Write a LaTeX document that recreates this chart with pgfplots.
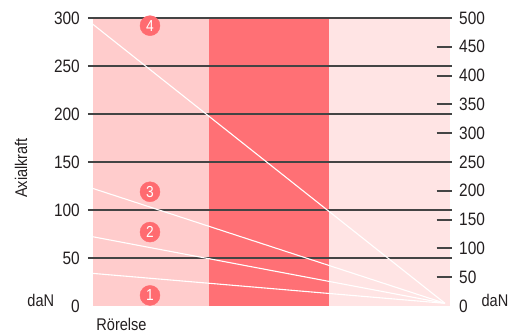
\documentclass[border=0pt]{standalone}
\usepackage{fontspec}
\setmainfont{Liberation Sans}[FakeStretch=0.86]
\usepackage{pgfplots}
\pgfplotsset{compat=1.18}
\definecolor{bandA}{HTML}{FFCCCC}
\definecolor{bandB}{HTML}{FF7075}
\definecolor{bandC}{HTML}{FFE4E4}
\definecolor{gridc}{HTML}{444444}
\definecolor{badge}{HTML}{FF6B70}
\definecolor{txt}{HTML}{231F20}
\begin{document}
\begin{tikzpicture}[x=1bp,y=1bp]
\useasboundingbox (0,0) rectangle (509,334);
\begin{axis}[
  at={(92bp,28bp)}, anchor=south west,
  scale only axis, width=358bp, height=288bp,
  xmin=0, xmax=1, ymin=0, ymax=300,
  clip=false,
  axis line style={draw=none},
  xtick=\empty,
  ytick={0,50,...,300},
  ytick pos=left,
  major tick length=0pt,
  tick style={draw=none},
  /pgf/number format/assume math mode=true,
  yticklabel style={anchor=east, inner sep=0pt, xshift=-12bp, text=txt,
     font=\fontsize{18}{18}\selectfont},
]
% background bands
\addplot[fill=bandA, draw=none] coordinates {(0.0014,0)(0.326,0)(0.326,300)(0.0014,300)} -- cycle;
\addplot[fill=bandB, draw=none] coordinates {(0.326,0)(0.662,0)(0.662,300)(0.326,300)} -- cycle;
\addplot[fill=bandC, draw=none] coordinates {(0.662,0)(1,0)(1,300)(0.662,300)} -- cycle;
% grid lines
\pgfplotsinvokeforeach{50,100,150,200,250,300}{
  \addplot[gridc, line width=2bp] coordinates {(-0.0112,#1)(1.0056,#1)};
}
% load lines
\addplot[white, line width=1.1bp] coordinates {(0.0014,293.75)(0.986,2.8)};
\addplot[white, line width=1.1bp] coordinates {(0.0014,122.6)(0.986,2.8)};
\addplot[white, line width=1.1bp] coordinates {(0.0014,72.2)(0.986,2.8)};
\addplot[white, line width=1.1bp] coordinates {(0.0014,34)(0.986,2.8)};
% badges
\addplot[only marks, mark=*, mark size=10bp, badge, mark options={draw=none, fill=badge},
  point meta=explicit symbolic,
  nodes near coords,
  nodes near coords style={anchor=center, text=white, inner sep=0pt,
     font=\fontsize{16}{16}\selectfont}]
  coordinates {(0.162,292)[4] (0.162,119)[3] (0.162,77)[2] (0.162,11)[1]};
\end{axis}
\begin{axis}[
  at={(92bp,28bp)}, anchor=south west,
  scale only axis, width=358bp, height=288bp,
  xmin=0, xmax=1, ymin=0, ymax=500,
  clip=false,
  axis line style={draw=none},
  xtick=\empty,
  ytick={0,50,...,500},
  ytick pos=right,
  major tick length=0pt,
  tick style={draw=none},
  /pgf/number format/assume math mode=true,
  yticklabel style={anchor=west, inner sep=0pt, xshift=9bp, text=txt,
     font=\fontsize{18}{18}\selectfont},
]
\pgfplotsinvokeforeach{50,100,150,200,300,350,400,450}{
  \addplot[gridc, line width=2bp] coordinates {(0.9628,#1)(1.0056,#1)};
}
\end{axis}
\node[rotate=90, text=txt, font=\fontsize{17}{17}\selectfont] at (21,166) {Axialkraft};
\node[anchor=base, text=txt, font=\fontsize{17}{17}\selectfont, inner sep=0pt] at (121.5,3.5) {Rörelse};
\node[anchor=base, text=txt, font=\fontsize{17}{17}\selectfont, inner sep=0pt] at (40.8,27.5) {daN};
\node[anchor=base, text=txt, font=\fontsize{17}{17}\selectfont, inner sep=0pt] at (495,27.5) {daN};
\end{tikzpicture}
\end{document}
